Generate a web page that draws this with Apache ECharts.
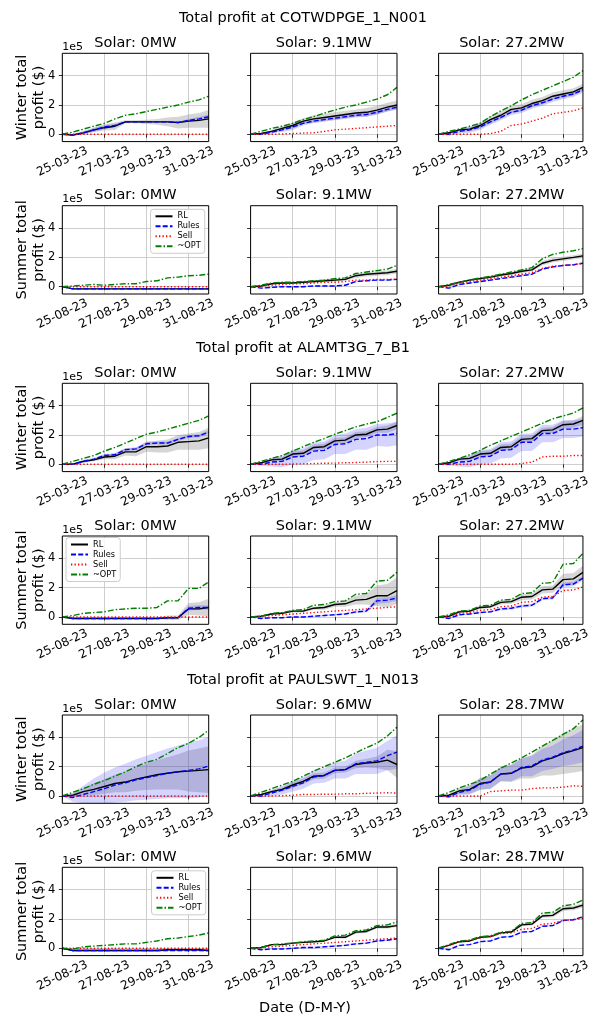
<!DOCTYPE html>
<html><head><meta charset="utf-8">
<script src="https://cdn.jsdelivr.net/npm/echarts@6/dist/echarts.min.js"></script>
<style>html,body{margin:0;padding:0;background:#fff}#c{width:593px;height:1022px}</style>
</head><body><div id="c"></div>
<script>
// ---------- data (profit in units of 1e5 $) ----------
const hours = [0,12,24,36,48,60,72,84,96,108,120,132,144,156,167];
const xTickHours = [0,48,96,144];
const winterTickLabels = ['25-03-23','27-03-23','29-03-23','31-03-23'];
const summerTickLabels = ['25-08-23','27-08-23','29-08-23','31-08-23'];
const yTickValues = [0,2,4];
const nodeNames = ['COTWDPGE_1_N001','ALAMT3G_7_B1','PAULSWT_1_N013'];
const solarSizes = [['0MW','9.1MW','27.2MW'],['0MW','9.1MW','27.2MW'],['0MW','9.6MW','28.7MW']];
const seasonNames = ['Winter','Summer'];
const seriesNames = ['RL','Rules','Sell','~OPT'];

// COTWDPGE winter
const COT_W0_RL    = [0,-0.05,0.1,0.3,0.45,0.55,0.85,0.85,0.85,0.85,0.85,0.8,0.9,0.95,1.05];
const COT_W0_RULES = [0,-0.05,0.1,0.3,0.5,0.6,0.85,0.85,0.85,0.85,0.85,0.8,0.95,1.05,1.2];
const COT_W0_SELL  = [0,0,0,0,0,0,0,0,0,0,0,0,0,0,0];
const COT_W0_OPT   = [0,0.15,0.35,0.55,0.75,1.05,1.3,1.4,1.55,1.7,1.85,2.0,2.2,2.35,2.6];
const COT_W0_RL_SD = [0,0.05,0.1,0.15,0.2,0.25,0.1,0.1,0.15,0.2,0.3,0.4,0.45,0.5,0.6];
const COT_W0_RU_SD = [0,0.05,0.1,0.15,0.15,0.1,0.05,0.05,0.05,0.05,0.05,0.05,0.1,0.15,0.15];

const COT_W1_RL    = [0,0.05,0.2,0.4,0.6,0.9,1.05,1.15,1.25,1.35,1.45,1.5,1.65,1.85,2.0];
const COT_W1_RULES = [0,0,0.15,0.3,0.5,0.75,0.9,1.0,1.1,1.2,1.3,1.35,1.5,1.7,1.85];
const COT_W1_SELL  = [0,0,0,0.02,0.05,0.08,0.1,0.2,0.3,0.35,0.4,0.45,0.5,0.55,0.6];
const COT_W1_OPT   = [0,0.2,0.4,0.55,0.75,1.0,1.2,1.45,1.65,1.85,2.0,2.2,2.4,2.7,3.2];
const COT_W1_RL_SD = [0,0.05,0.1,0.15,0.2,0.2,0.25,0.25,0.25,0.25,0.25,0.3,0.3,0.3,0.3];
const COT_W1_RU_SD = [0,0.05,0.1,0.15,0.2,0.15,0.15,0.15,0.15,0.15,0.15,0.15,0.15,0.15,0.15];

const COT_W2_RL    = [0,0.1,0.3,0.35,0.6,1.0,1.3,1.7,1.8,2.1,2.3,2.6,2.75,2.9,3.2];
const COT_W2_RULES = [0,0,0.2,0.3,0.5,0.85,1.15,1.5,1.65,1.95,2.15,2.4,2.6,2.75,3.05];
const COT_W2_SELL  = [0,0,0,0,0,0.05,0.2,0.6,0.7,0.9,1.1,1.4,1.5,1.6,1.8];
const COT_W2_OPT   = [0,0.2,0.35,0.55,0.75,1.2,1.6,1.95,2.35,2.7,3.0,3.3,3.6,3.9,4.35];
const COT_W2_RL_SD = [0,0.05,0.1,0.15,0.2,0.25,0.25,0.25,0.25,0.25,0.25,0.25,0.25,0.25,0.25];
const COT_W2_RU_SD = [0,0.1,0.15,0.2,0.2,0.2,0.2,0.2,0.2,0.2,0.2,0.2,0.2,0.2,0.2];

// COTWDPGE summer
const COT_S0_RL    = [0,-0.15,-0.15,-0.15,-0.15,-0.15,-0.15,-0.15,-0.15,-0.15,-0.15,-0.15,-0.15,-0.15,-0.15];
const COT_S0_RULES = [0,-0.15,-0.15,-0.15,-0.15,-0.15,-0.15,-0.15,-0.15,-0.15,-0.15,-0.15,-0.15,-0.15,-0.15];
const COT_S0_SELL  = [0,0,0,0,0,0,0,0,0,0,0,0,0,0,0];
const COT_S0_OPT   = [0,0.05,0.1,0.15,0.1,0.15,0.2,0.2,0.35,0.4,0.6,0.65,0.75,0.78,0.86];
const COT_S0_RL_SD = [0,0.05,0.05,0.05,0.05,0.05,0.05,0.05,0.05,0.05,0.05,0.05,0.05,0.05,0.05];
const COT_S0_RU_SD = [0,0.03,0.03,0.03,0.03,0.03,0.03,0.03,0.03,0.03,0.03,0.03,0.03,0.03,0.03];

const COT_S1_RL    = [0,0.05,0.2,0.25,0.25,0.3,0.35,0.4,0.45,0.5,0.75,0.85,0.9,0.95,1.05];
const COT_S1_RULES = [0,-0.1,-0.05,0,0,0,0.05,0.05,0.05,0.1,0.35,0.4,0.45,0.45,0.5];
const COT_S1_SELL  = [0,0.05,0.1,0.15,0.2,0.2,0.25,0.3,0.3,0.35,0.45,0.45,0.5,0.5,0.52];
const COT_S1_OPT   = [0,0.1,0.25,0.3,0.3,0.35,0.4,0.45,0.55,0.6,0.9,1.0,1.1,1.2,1.45];
const COT_S1_RL_SD = [0,0.03,0.05,0.05,0.05,0.05,0.08,0.1,0.1,0.1,0.15,0.15,0.15,0.15,0.15];
const COT_S1_RU_SD = [0,0.03,0.05,0.05,0.05,0.05,0.05,0.05,0.05,0.05,0.05,0.05,0.05,0.05,0.05];

const COT_S2_RL    = [0,0.1,0.3,0.45,0.55,0.65,0.8,0.9,1.05,1.15,1.6,1.8,1.9,2.0,2.1];
const COT_S2_RULES = [0,-0.1,0.15,0.25,0.35,0.45,0.55,0.65,0.75,0.85,1.2,1.35,1.45,1.5,1.6];
const COT_S2_SELL  = [0,0.05,0.25,0.35,0.45,0.55,0.65,0.75,0.85,0.95,1.25,1.4,1.45,1.5,1.6];
const COT_S2_OPT   = [0,0.15,0.3,0.45,0.6,0.7,0.85,1.0,1.15,1.3,1.9,2.2,2.35,2.45,2.6];
const COT_S2_RL_SD = [0,0.05,0.05,0.08,0.1,0.1,0.1,0.1,0.12,0.12,0.15,0.15,0.15,0.15,0.15];
const COT_S2_RU_SD = [0,0.05,0.05,0.05,0.05,0.05,0.05,0.05,0.05,0.05,0.05,0.05,0.05,0.05,0.05];

// ALAMT3G winter
const ALA_W0_RL    = [0,0,0.2,0.3,0.5,0.55,0.85,0.85,1.2,1.2,1.25,1.5,1.55,1.6,1.8];
const ALA_W0_RULES = [0,0,0.2,0.35,0.6,0.65,1.0,1.05,1.4,1.45,1.45,1.7,1.9,1.95,2.2];
const ALA_W0_SELL  = [0,0,0,0,0,0,0,0,0,0,0,0,0,0,0];
const ALA_W0_OPT   = [0,0.2,0.4,0.6,0.9,1.15,1.45,1.75,2.05,2.2,2.4,2.6,2.8,3.0,3.3];
const ALA_W0_RL_SD = [0,0.05,0.1,0.1,0.15,0.2,0.25,0.3,0.35,0.4,0.45,0.5,0.55,0.6,0.7];
const ALA_W0_RU_SD = [0,0.05,0.1,0.1,0.1,0.1,0.1,0.1,0.1,0.1,0.1,0.1,0.1,0.1,0.1];

const ALA_W1_RL    = [0,0.1,0.3,0.35,0.7,0.75,1.15,1.2,1.6,1.65,2.0,2.05,2.35,2.4,2.65];
const ALA_W1_RULES = [0,0,0.15,0.2,0.5,0.55,0.9,0.95,1.35,1.4,1.7,1.75,2.0,2.0,2.1];
const ALA_W1_SELL  = [0,0,0,0,0.02,0.03,0.05,0.07,0.08,0.1,0.12,0.15,0.18,0.2,0.2];
const ALA_W1_OPT   = [0,0.2,0.4,0.6,0.9,1.2,1.5,1.75,2.05,2.3,2.55,2.75,2.9,3.2,3.5];
const ALA_W1_RL_SD = [0,0.05,0.1,0.15,0.2,0.2,0.2,0.2,0.2,0.2,0.2,0.2,0.2,0.25,0.25];
const ALA_W1_RU_SD = [0,0.1,0.3,0.4,0.5,0.55,0.6,0.6,0.65,0.7,0.7,0.75,0.75,0.8,0.8];

const ALA_W2_RL    = [0,0.1,0.35,0.4,0.7,0.75,1.15,1.2,1.7,1.75,2.3,2.35,2.7,2.75,3.0];
const ALA_W2_RULES = [0,0,0.15,0.2,0.5,0.55,0.95,1.0,1.5,1.5,2.1,2.1,2.4,2.4,2.5];
const ALA_W2_SELL  = [0,0,0,0,0,0,0,0,0.05,0.15,0.5,0.55,0.55,0.6,0.6];
const ALA_W2_OPT   = [0,0.2,0.4,0.65,0.95,1.3,1.6,1.9,2.2,2.5,2.8,3.1,3.3,3.5,3.85];
const ALA_W2_RL_SD = [0,0.05,0.1,0.15,0.2,0.2,0.2,0.2,0.2,0.2,0.2,0.2,0.25,0.25,0.3];
const ALA_W2_RU_SD = [0,0.1,0.3,0.4,0.5,0.5,0.55,0.55,0.6,0.6,0.6,0.6,0.6,0.6,0.6];

// ALAMT3G summer
const ALA_S0_RL    = [0,-0.1,-0.1,-0.1,-0.1,-0.1,-0.1,-0.1,-0.1,-0.1,-0.05,-0.05,0.55,0.55,0.65];
const ALA_S0_RULES = [0,-0.1,-0.1,-0.1,-0.1,-0.1,-0.1,-0.1,-0.1,-0.1,-0.05,-0.05,0.6,0.65,0.65];
const ALA_S0_SELL  = [0,0,0,0,0,0,0,0,0,0,0,0,0,0,0];
const ALA_S0_OPT   = [0,0.1,0.25,0.3,0.35,0.5,0.55,0.6,0.6,0.65,1.1,1.1,1.95,1.95,2.4];
const ALA_S0_RL_SD = [0,0.05,0.05,0.05,0.05,0.05,0.05,0.05,0.05,0.05,0.15,0.15,0.4,0.45,0.6];
const ALA_S0_RU_SD = [0,0.03,0.03,0.03,0.03,0.03,0.03,0.03,0.03,0.03,0.05,0.05,0.15,0.15,0.15];

const ALA_S1_RL    = [0,0.05,0.2,0.25,0.4,0.4,0.6,0.65,0.85,0.9,1.15,1.2,1.45,1.45,1.8];
const ALA_S1_RULES = [0,-0.1,-0.05,-0.05,0,0,0.05,0.1,0.15,0.2,0.35,0.4,1.1,1.15,1.3];
const ALA_S1_SELL  = [0,0.05,0.1,0.15,0.2,0.25,0.3,0.35,0.4,0.45,0.5,0.55,0.6,0.65,0.7];
const ALA_S1_OPT   = [0,0.05,0.25,0.3,0.45,0.5,0.8,0.85,1.05,1.1,1.55,1.6,2.45,2.5,3.05];
const ALA_S1_RL_SD = [0,0.05,0.05,0.05,0.1,0.1,0.1,0.15,0.15,0.2,0.3,0.35,0.7,0.8,0.9];
const ALA_S1_RU_SD = [0,0.05,0.05,0.05,0.05,0.05,0.05,0.05,0.05,0.05,0.1,0.1,0.2,0.2,0.2];

const ALA_S2_RL    = [0,0.05,0.35,0.4,0.65,0.7,1.0,1.05,1.35,1.4,1.85,1.9,2.55,2.6,3.05];
const ALA_S2_RULES = [0,-0.1,0.15,0.2,0.3,0.35,0.55,0.6,0.75,0.8,1.25,1.3,2.2,2.25,2.65];
const ALA_S2_SELL  = [0,0.05,0.25,0.3,0.45,0.5,0.7,0.75,1.0,1.05,1.35,1.4,1.8,1.85,2.05];
const ALA_S2_OPT   = [0,0.15,0.4,0.45,0.75,0.8,1.15,1.2,1.6,1.65,2.3,2.35,3.6,3.65,4.35];
const ALA_S2_RL_SD = [0,0.05,0.1,0.1,0.1,0.1,0.15,0.15,0.2,0.2,0.25,0.25,0.4,0.4,0.45];
const ALA_S2_RU_SD = [0,0.05,0.05,0.05,0.05,0.05,0.1,0.1,0.1,0.1,0.1,0.1,0.15,0.15,0.15];

// PAULSWT winter
const PAU_W0_RL    = [0,0.05,0.3,0.45,0.65,0.85,0.95,1.15,1.3,1.45,1.55,1.65,1.7,1.75,1.8];
const PAU_W0_RULES = [0,-0.1,0.1,0.3,0.5,0.75,0.9,1.1,1.25,1.4,1.55,1.65,1.75,1.85,2.05];
const PAU_W0_SELL  = [0,0,0,0,0,0,0,0,0,0,0,0,0,0,0];
const PAU_W0_OPT   = [0,0.25,0.5,0.8,1.05,1.35,1.65,2.0,2.3,2.5,2.9,3.3,3.6,4.0,4.5];
const PAU_W0_RL_SD = [0,0.1,0.25,0.4,0.5,0.6,0.7,0.8,0.9,1.0,1.1,1.2,1.4,1.5,1.6];
const PAU_W0_RU_SD = [0,0.3,0.6,0.9,1.1,1.2,1.3,1.4,1.5,1.6,1.7,1.8,1.9,1.95,2.0];

const PAU_W1_RL    = [0,0.1,0.3,0.45,0.75,1.0,1.35,1.4,1.75,1.8,2.15,2.25,2.3,2.45,2.15];
const PAU_W1_RULES = [0,0,0.2,0.4,0.65,0.9,1.3,1.4,1.75,1.8,2.2,2.3,2.4,2.75,3.0];
const PAU_W1_SELL  = [0,0,0,0.02,0.05,0.1,0.1,0.12,0.12,0.15,0.15,0.18,0.2,0.22,0.2];
const PAU_W1_OPT   = [0,0.25,0.5,0.75,1.0,1.35,1.7,2.0,2.3,2.6,2.95,3.3,3.6,4.1,4.7];
const PAU_W1_RL_SD = [0,0.05,0.1,0.15,0.2,0.2,0.2,0.2,0.2,0.2,0.25,0.3,0.4,0.7,0.9];
const PAU_W1_RU_SD = [0,0.1,0.2,0.3,0.35,0.4,0.45,0.5,0.55,0.6,0.7,0.8,0.9,1.0,1.15];

const PAU_W2_RL    = [0,0.05,0.35,0.45,0.85,0.95,1.5,1.55,1.9,2.0,2.4,2.6,2.9,3.1,3.3];
const PAU_W2_RULES = [0,-0.05,0.25,0.4,0.8,0.95,1.5,1.55,1.95,2.05,2.45,2.65,2.95,3.15,3.4];
const PAU_W2_SELL  = [0,0,0,0,0,0.3,0.35,0.4,0.4,0.5,0.55,0.55,0.6,0.7,0.65];
const PAU_W2_OPT   = [0,0.25,0.55,0.8,1.05,1.5,1.9,2.25,2.6,3.0,3.4,3.8,4.2,4.6,5.2];
const PAU_W2_RL_SD = [0,0.1,0.2,0.3,0.4,0.45,0.5,0.6,0.7,0.8,1.0,1.2,1.4,1.5,1.6];
const PAU_W2_RU_SD = [0,0.1,0.2,0.3,0.4,0.45,0.5,0.55,0.6,0.7,0.75,0.8,0.9,1.0,1.1];

// PAULSWT summer
const PAU_S0_RL    = [0,-0.15,-0.15,-0.15,-0.15,-0.15,-0.15,-0.15,-0.15,-0.15,-0.1,-0.1,-0.1,-0.1,-0.15];
const PAU_S0_RULES = [0,-0.15,-0.15,-0.15,-0.15,-0.15,-0.15,-0.15,-0.15,-0.15,-0.15,-0.15,-0.15,-0.15,-0.15];
const PAU_S0_SELL  = [0,0,0,0,0,0,0,0,0,0,0,0,0,0,0];
const PAU_S0_OPT   = [0,-0.05,0.1,0.15,0.2,0.25,0.3,0.3,0.4,0.5,0.65,0.7,0.8,0.9,1.05];
const PAU_S0_RL_SD = [0,0.08,0.08,0.08,0.08,0.08,0.08,0.08,0.08,0.08,0.08,0.08,0.08,0.08,0.08];
const PAU_S0_RU_SD = [0,0.05,0.05,0.05,0.05,0.05,0.05,0.05,0.05,0.05,0.05,0.05,0.05,0.05,0.05];

const PAU_S1_RL    = [0,0.05,0.25,0.25,0.35,0.4,0.45,0.5,0.75,0.75,1.1,1.15,1.45,1.45,1.55];
const PAU_S1_RULES = [0,-0.1,-0.05,-0.05,0,0.05,0.05,0.1,0.15,0.2,0.3,0.35,0.5,0.55,0.65];
const PAU_S1_SELL  = [0,0.05,0.1,0.15,0.2,0.25,0.3,0.35,0.4,0.45,0.5,0.55,0.6,0.65,0.7];
const PAU_S1_OPT   = [0,0.05,0.25,0.3,0.35,0.45,0.5,0.55,0.85,0.9,1.2,1.25,1.55,1.6,1.8];
const PAU_S1_RL_SD = [0,0.05,0.05,0.05,0.05,0.05,0.05,0.05,0.08,0.08,0.1,0.1,0.1,0.1,0.1];
const PAU_S1_RU_SD = [0,0.03,0.05,0.05,0.05,0.05,0.05,0.05,0.05,0.05,0.05,0.05,0.05,0.05,0.05];

const PAU_S2_RL    = [0,0.2,0.45,0.5,0.75,0.8,1.05,1.1,1.6,1.65,2.2,2.25,2.7,2.75,2.95];
const PAU_S2_RULES = [0,-0.1,0.2,0.25,0.45,0.5,0.75,0.8,1.1,1.15,1.5,1.55,1.9,1.95,2.15];
const PAU_S2_SELL  = [0,0.2,0.45,0.55,0.7,0.8,1.0,1.05,1.3,1.35,1.65,1.7,1.9,1.95,2.05];
const PAU_S2_OPT   = [0,0.25,0.5,0.55,0.8,0.85,1.1,1.15,1.7,1.75,2.4,2.45,2.9,3.0,3.3];
const PAU_S2_RL_SD = [0,0.05,0.05,0.05,0.05,0.05,0.05,0.05,0.1,0.1,0.1,0.15,0.15,0.15,0.15];
const PAU_S2_RU_SD = [0,0.03,0.03,0.03,0.03,0.05,0.05,0.05,0.05,0.05,0.05,0.05,0.05,0.05,0.05];

// panels in reading order: [RL, Rules, Sell, OPT, RL spread, Rules spread]
const panelData = [
  [COT_W0_RL,COT_W0_RULES,COT_W0_SELL,COT_W0_OPT,COT_W0_RL_SD,COT_W0_RU_SD],
  [COT_W1_RL,COT_W1_RULES,COT_W1_SELL,COT_W1_OPT,COT_W1_RL_SD,COT_W1_RU_SD],
  [COT_W2_RL,COT_W2_RULES,COT_W2_SELL,COT_W2_OPT,COT_W2_RL_SD,COT_W2_RU_SD],
  [COT_S0_RL,COT_S0_RULES,COT_S0_SELL,COT_S0_OPT,COT_S0_RL_SD,COT_S0_RU_SD],
  [COT_S1_RL,COT_S1_RULES,COT_S1_SELL,COT_S1_OPT,COT_S1_RL_SD,COT_S1_RU_SD],
  [COT_S2_RL,COT_S2_RULES,COT_S2_SELL,COT_S2_OPT,COT_S2_RL_SD,COT_S2_RU_SD],
  [ALA_W0_RL,ALA_W0_RULES,ALA_W0_SELL,ALA_W0_OPT,ALA_W0_RL_SD,ALA_W0_RU_SD],
  [ALA_W1_RL,ALA_W1_RULES,ALA_W1_SELL,ALA_W1_OPT,ALA_W1_RL_SD,ALA_W1_RU_SD],
  [ALA_W2_RL,ALA_W2_RULES,ALA_W2_SELL,ALA_W2_OPT,ALA_W2_RL_SD,ALA_W2_RU_SD],
  [ALA_S0_RL,ALA_S0_RULES,ALA_S0_SELL,ALA_S0_OPT,ALA_S0_RL_SD,ALA_S0_RU_SD],
  [ALA_S1_RL,ALA_S1_RULES,ALA_S1_SELL,ALA_S1_OPT,ALA_S1_RL_SD,ALA_S1_RU_SD],
  [ALA_S2_RL,ALA_S2_RULES,ALA_S2_SELL,ALA_S2_OPT,ALA_S2_RL_SD,ALA_S2_RU_SD],
  [PAU_W0_RL,PAU_W0_RULES,PAU_W0_SELL,PAU_W0_OPT,PAU_W0_RL_SD,PAU_W0_RU_SD],
  [PAU_W1_RL,PAU_W1_RULES,PAU_W1_SELL,PAU_W1_OPT,PAU_W1_RL_SD,PAU_W1_RU_SD],
  [PAU_W2_RL,PAU_W2_RULES,PAU_W2_SELL,PAU_W2_OPT,PAU_W2_RL_SD,PAU_W2_RU_SD],
  [PAU_S0_RL,PAU_S0_RULES,PAU_S0_SELL,PAU_S0_OPT,PAU_S0_RL_SD,PAU_S0_RU_SD],
  [PAU_S1_RL,PAU_S1_RULES,PAU_S1_SELL,PAU_S1_OPT,PAU_S1_RL_SD,PAU_S1_RU_SD],
  [PAU_S2_RL,PAU_S2_RULES,PAU_S2_SELL,PAU_S2_OPT,PAU_S2_RL_SD,PAU_S2_RU_SD]
];

// ---------- layout & style ----------
const FONT = 'DejaVu Sans';
const colLeft = [62.3, 250.6, 438.6];
const plotW = 146.4;
const rowTop = [53.3, 205.7, 383.3, 536, 715, 867.3];
const plotH = 88.3;
const supTitleY = [18.5, 348.5, 680];
const seriesColors = ['#000000', '#0000ff', '#ff0000', '#008000'];
const lineStyles = [
  {color:'#000000', width:1.4, type:'solid'},
  {color:'#0000ff', width:1.4, type:[5,2.2]},
  {color:'#ff0000', width:1.4, type:[1.3,2.2]},
  {color:'#008000', width:1.4, type:[6,2,1.5,2]}
];
const bandColors = ['rgba(128,128,128,0.32)', 'rgba(0,0,255,0.17)'];
const legendPos = [{left:150.5, top:209.3}, {left:66, top:537.5}, {left:151.5, top:870.8}];

const grids = [], xAxes = [], yAxes = [], series = [], graphics = [];
const gridLine = {show:true, lineStyle:{color:'#c2c2c2', width:0.8}};
const tickStyle = {color:'#000', width:0.8};

function bandSeries(i, mid, sd, color) {
  return {
    type:'custom', xAxisIndex:i, yAxisIndex:i, silent:true, z:1, clip:true,
    data:[[0, 0]], encode:{x:0, y:1},
    renderItem:(params, api) => {
      const up = hours.map((h, k) => api.coord([h, mid[k] + sd[k]]));
      const lo = hours.map((h, k) => api.coord([h, mid[k] - sd[k]])).reverse();
      return {type:'polygon', shape:{points:up.concat(lo)}, style:{fill:color, stroke:null}};
    }
  };
}

for (let r = 0; r < 6; r++) {
  const node = Math.floor(r / 2), s = r % 2;
  for (let c = 0; c < 3; c++) {
    const i = r * 3 + c;
    const tl = s === 0 ? winterTickLabels : summerTickLabels;
    grids.push({left:colLeft[c], top:rowTop[r], width:plotW, height:plotH, show:true,
      borderColor:'#000', borderWidth:1, backgroundColor:'rgba(0,0,0,0)', z:3});
    xAxes.push({type:'value', gridIndex:i, min:0, max:167,
      axisLine:{show:false},
      axisTick:{show:true, customValues:xTickHours, length:3.5, lineStyle:tickStyle},
      axisLabel:{show:true, customValues:xTickHours, formatter:(v)=>tl[xTickHours.indexOf(v)] || '',
        rotate:25, align:'center', verticalAlign:'middle', margin:20, fontSize:12, color:'#000', fontFamily:FONT},
      splitLine:gridLine});
    yAxes.push({type:'value', gridIndex:i, min:-0.5, max:5.53,
      axisLine:{show:false},
      axisTick:{show:true, customValues:yTickValues, length:3.5, lineStyle:tickStyle},
      axisLabel:{show:c === 0, customValues:yTickValues, margin:7, fontSize:11.5, color:'#000', fontFamily:FONT},
      splitLine:gridLine});
    const d = panelData[i];
    series.push(bandSeries(i, d[0], d[4], bandColors[0]));
    series.push(bandSeries(i, d[1], d[5], bandColors[1]));
    for (let m = 0; m < 4; m++) {
      series.push({name:seriesNames[m], type:'line', xAxisIndex:i, yAxisIndex:i,
        data:hours.map((h,k)=>[h, d[m][k]]), symbol:'none', showSymbol:false,
        itemStyle:{color:seriesColors[m]}, lineStyle:lineStyles[m], z:2 + m * 0.1});
    }
    graphics.push({type:'text', x:colLeft[c] + plotW / 2, y:rowTop[r] - 10,
      style:{text:'Solar: ' + solarSizes[node][c], fontSize:14.5, fontFamily:FONT, fill:'#000', align:'center', verticalAlign:'middle'}});
  }
  graphics.push({type:'text', x:colLeft[0], y:rowTop[r] - 6.3,
    style:{text:'1e5', fontSize:11, fontFamily:FONT, fill:'#000', align:'left', verticalAlign:'middle'}});
  graphics.push({type:'text', x:31, y:rowTop[r] + plotH / 2, rotation:Math.PI / 2,
    style:{text:seasonNames[s] + ' total\nprofit ($)', fontSize:14.5, lineHeight:16.6, fontFamily:FONT, fill:'#000', align:'center', verticalAlign:'middle'}});
}
nodeNames.forEach((n, k) => {
  graphics.push({type:'text', x:303, y:supTitleY[k],
    style:{text:'Total profit at ' + n, fontSize:14.5, fontFamily:FONT, fill:'#000', align:'center', verticalAlign:'middle'}});
});
graphics.push({type:'text', x:305, y:1008,
  style:{text:'Date (D-M-Y)', fontSize:14.5, fontFamily:FONT, fill:'#000', align:'center', verticalAlign:'middle'}});

const legends = legendPos.map(p => ({
  data:seriesNames, orient:'vertical', left:p.left, top:p.top,
  itemWidth:17, itemHeight:10, itemGap:2, padding:[3,4,3,4],
  backgroundColor:'rgba(255,255,255,0.85)', borderColor:'#cccccc', borderWidth:1, borderRadius:3,
  itemStyle:{opacity:0, borderWidth:0},
  textStyle:{fontSize:8.2, fontFamily:FONT, color:'#000'},
  selectedMode:false, z:10
}));

const chart = echarts.init(document.getElementById('c'), null, {renderer:'canvas'});
chart.setOption({
  animation:false,
  backgroundColor:'#ffffff',
  grid:grids, xAxis:xAxes, yAxis:yAxes, series:series,
  legend:legends,
  graphic:graphics
});
</script></body></html>
